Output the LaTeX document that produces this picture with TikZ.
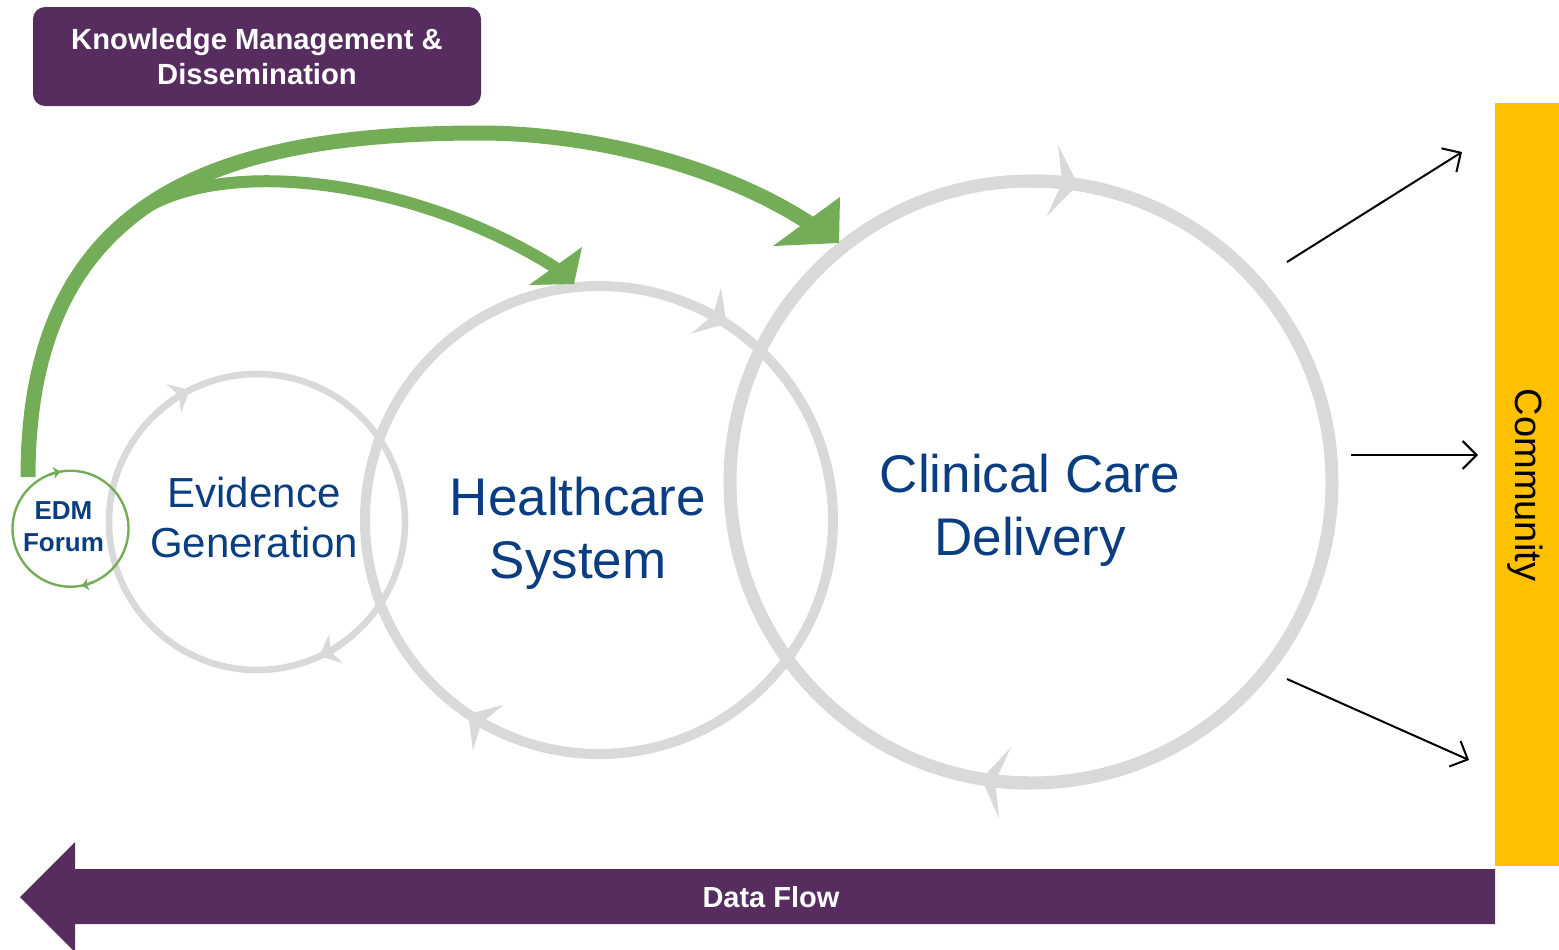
\documentclass[tikz,border=0pt]{standalone}
\usepackage{fontspec}
\setmainfont{Liberation Sans}
\usetikzlibrary{arrows.meta}
\definecolor{ggray}{HTML}{D9D9D9}
\definecolor{ggreen}{RGB}{116,173,87}
\definecolor{pplum}{RGB}{86,45,94}
\definecolor{nblue}{RGB}{10,62,128}
\definecolor{yel}{HTML}{FFC000}
\tikzset{
  loopline/.style={draw=ggray},
  bigtext/.style={text=nblue, align=center, font=\fontsize{26.5pt}{31.5pt}\selectfont},
  greenarc/.style={draw=ggreen},
  outarrow/.style={line width=1pt, -{Straight Barb[length=7pt,width=14pt]}},
}
\begin{document}
\begin{tikzpicture}[x=0.5pt,y=-0.5pt]
\useasboundingbox (0,0) rectangle (1559,949);
% centres
\coordinate (cE) at (70.5,528.7);
\coordinate (cG) at (257,522);
\coordinate (cH) at (599,520);
\coordinate (cC) at (1031,482);
% grey loops
\draw[loopline, line width=3.3pt] (cG) circle[radius=148];
\draw[loopline, line width=5pt] (cH) circle[radius=234];
\draw[loopline, line width=6.5pt] (cC) circle[radius=301];
% loop arrow marks
\draw[loopline, line width=3.3pt, -{Stealth[length=9pt,width=16pt,inset=3pt,color=ggray]}] (cG) ++(226:148) arc[start angle=226, end angle=243, radius=148];
\draw[loopline, line width=3.3pt, -{Stealth[length=9pt,width=16pt,inset=3pt,color=ggray]}] (cG) ++(48:148) arc[start angle=48, end angle=65, radius=148];
\draw[loopline, line width=5pt, -{Stealth[length=12pt,width=27pt,inset=4pt,color=ggray]}] (cH) ++(-70:234) arc[start angle=-70, end angle=-57, radius=234];
\draw[loopline, line width=5pt, -{Stealth[length=12pt,width=27pt,inset=4pt,color=ggray]}] (cH) ++(111:234) arc[start angle=111, end angle=124, radius=234];
\draw[loopline, line width=6.5pt, -{Stealth[length=13pt,width=36pt,inset=5pt,color=ggray]}] (cC) ++(-91:301) arc[start angle=-91, end angle=-81, radius=301];
\draw[loopline, line width=6.5pt, -{Stealth[length=12pt,width=36pt,inset=5pt,color=ggray]}] (cC) ++(90:301) arc[start angle=90, end angle=99.5, radius=301];
% EDM forum loop
\draw[greenarc, line width=1.2pt] (cE) circle[radius=58];
\draw[greenarc, line width=1.2pt, -{Stealth[length=3.5pt,width=6pt,inset=1pt,color=ggreen]}] (cE) ++(-112:58) arc[start angle=-112, end angle=-100, radius=58];
\draw[greenarc, line width=1.2pt, -{Stealth[length=3.5pt,width=6pt,inset=1pt,color=ggreen]}] (cE) ++(67:58) arc[start angle=67, end angle=79, radius=58];
% texts
\node[text=nblue, align=center, font=\bfseries\fontsize{13pt}{16pt}\selectfont] (edm) at (63.5,526.5) {EDM\\Forum};
\node[text=nblue, align=center, font=\fontsize{21pt}{25pt}\selectfont] (ev) at (254,517) {Evidence\\Generation};
\node[bigtext] (hs) at (578,533) {Healthcare\\System};
\node[bigtext] (cc) at (1030,510) {Clinical Care\\Delivery};
% green arrows
\coordinate (gs) at (28,477);
\coordinate (gtop) at (480,133);
\coordinate (gend) at (812,225);
\coordinate (gbranch) at (128.3,219.6);
\coordinate (gend2) at (559,270);
\draw[greenarc, line width=7.5pt] (gs) .. controls (28,205) and (205,133) .. (gtop) .. controls (600,133) and (730,170) .. (gend);
\fill[ggreen] (840,197) -- (839,243) -- (773,246) -- cycle;
\draw[greenarc, line width=6pt, line cap=round] (gbranch) .. controls (213,150) and (420,180) .. (gend2);
\fill[ggreen] (582,247) -- (574,284) -- (529,285) -- cycle;
% knowledge box
\node[fill=pplum, rounded corners=6pt, minimum width=224pt, minimum height=49.5pt, text=white, align=center, font=\bfseries\fontsize{14.6pt}{17.5pt}\selectfont] (km) at (257,56.5) {Knowledge Management \&\\Dissemination};
% community bar
\fill[yel] (1495,103) rectangle (1559,866);
\node[rotate=-90, font=\fontsize{19pt}{22pt}\selectfont] (comm) at (1525,485) {Community};
% outward arrows
\coordinate (a1s) at (1287,262); \coordinate (a1e) at (1462,152);
\coordinate (a2s) at (1351,455); \coordinate (a2e) at (1478,455);
\coordinate (a3s) at (1287,679); \coordinate (a3e) at (1469,760);
\draw[outarrow] (a1s) -- (a1e);
\draw[outarrow] (a2s) -- (a2e);
\draw[outarrow] (a3s) -- (a3e);
% data flow arrow
\fill[pplum] (20,897) -- (75,842) -- (75,869) -- (1495,869) -- (1495,924) -- (75,924) -- (75,952) -- cycle;
\node[text=white, font=\bfseries\fontsize{14.5pt}{17pt}\selectfont] (df) at (771,897) {Data Flow};
\end{tikzpicture}
\end{document}
